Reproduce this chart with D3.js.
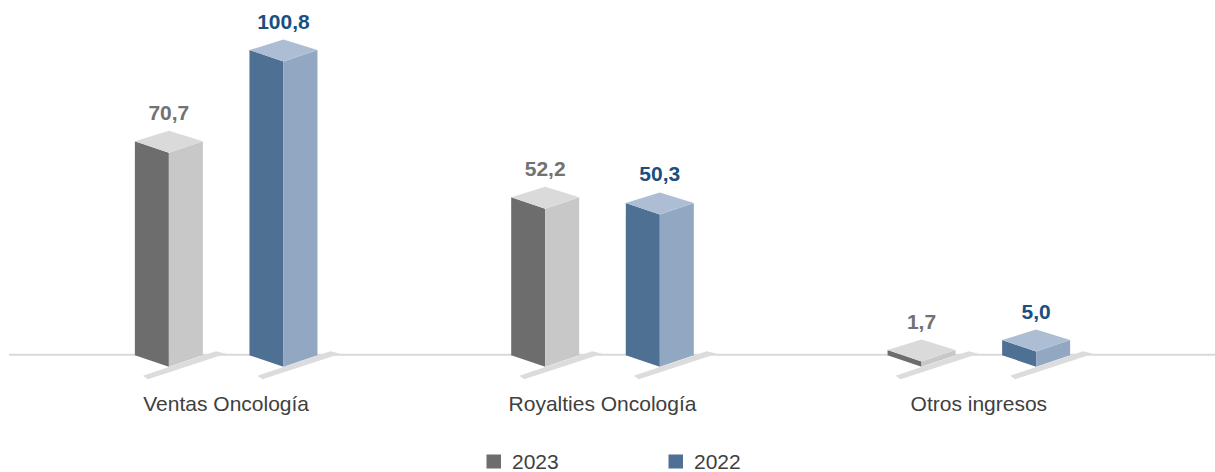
<!DOCTYPE html>
<html>
<head>
<meta charset="utf-8">
<script src="https://cdn.jsdelivr.net/npm/d3@7"></script>
<style>
  html, body { margin: 0; padding: 0; background: #ffffff; }
  svg { display: block; font-family: "Liberation Sans", Arial, sans-serif; }
</style>
</head>
<body>
<svg id="chart" width="1215" height="472"></svg>
<script>
// Revenue by line of business, 2023 vs 2022
const categories = ["Ventas Oncología", "Royalties Oncología", "Otros ingresos"];
const seriesNames = ["2023", "2022"];
const values2023 = [70.7, 52.2, 1.7];
const values2022 = [100.8, 50.3, 5.0];
const seriesValues = [values2023, values2022];

const fmt = v => d3.format(".1f")(v).replace(".", ",");

const palette = {
  "2023": { left: "#6d6d6d", right: "#c8c8c8", top: "#dadada", label: "#727272", key: "#6d6d6d" },
  "2022": { left: "#4d7093", right: "#91a7c2", top: "#adbdd3", label: "#1a4f80", key: "#4d7093" }
};

const svg = d3.select("#chart");
const W = 1215;

const baseY = 366.7;      // floor level at the front edge of each prism
const halfW = 34;         // width of each visible face
const depth = 11.5;       // vertical offset of the receding edges

const x = d3.scaleBand().domain(categories).range([38, 1167]);
const xs = d3.scaleBand().domain(seriesNames).range([-114.6, 114.6]).paddingInner(0);
const y = d3.scaleLinear().domain([0, 110]).range([baseY, baseY - 333]);

// axis line
svg.append("line")
  .attr("x1", 9).attr("x2", W)
  .attr("y1", 354.7).attr("y2", 354.7)
  .attr("stroke", "#d9d9d9").attr("stroke-width", 2);

const rows = [];
categories.forEach((c, i) => {
  seriesNames.forEach((s, j) => {
    rows.push({ cat: c, series: s, value: seriesValues[j][i] });
  });
});

const fx = d => x(d.cat) + x.bandwidth() / 2 + xs(d.series) + xs.bandwidth() / 2;

const g = svg.append("g");

// floor shadows
g.selectAll("polygon.shadow").data(rows).join("polygon")
  .attr("class", "shadow")
  .attr("fill", "#dcdcdc")
  .attr("points", d => {
    const cx = fx(d);
    return [[cx - 26, baseY + 9], [cx + 47, baseY - 15.5], [cx + 57, baseY - 13], [cx - 21, baseY + 12.5]]
      .map(p => p.join(",")).join(" ");
  });

const bars = g.selectAll("g.bar").data(rows).join("g").attr("class", "bar");

// left face
bars.append("polygon")
  .attr("fill", d => palette[d.series].left)
  .attr("points", d => {
    const cx = fx(d), t = y(d.value);
    return [[cx - halfW, t - depth], [cx, t], [cx, baseY], [cx - halfW, baseY - depth]]
      .map(p => p.join(",")).join(" ");
  });

// right face
bars.append("polygon")
  .attr("fill", d => palette[d.series].right)
  .attr("points", d => {
    const cx = fx(d), t = y(d.value);
    return [[cx, t], [cx + halfW, t - depth], [cx + halfW, baseY - depth], [cx, baseY]]
      .map(p => p.join(",")).join(" ");
  });

// top face
bars.append("polygon")
  .attr("fill", d => palette[d.series].top)
  .attr("points", d => {
    const cx = fx(d), t = y(d.value);
    return [[cx - halfW, t - depth], [cx, t - 2 * depth + 1], [cx + halfW, t - depth], [cx, t]]
      .map(p => p.join(",")).join(" ");
  });

// value labels
bars.append("text")
  .attr("x", d => fx(d))
  .attr("y", d => y(d.value) - 33)
  .attr("text-anchor", "middle")
  .attr("font-size", 21)
  .attr("font-weight", "bold")
  .attr("fill", d => palette[d.series].label)
  .text(d => fmt(d.value));

// category labels
svg.append("g").selectAll("text").data(categories).join("text")
  .attr("x", d => x(d) + x.bandwidth() / 2)
  .attr("y", 411)
  .attr("text-anchor", "middle")
  .attr("font-size", 21)
  .attr("fill", "#404040")
  .text(d => d);

// legend
const legendX = [486.5, 668.5];
const legend = svg.append("g").selectAll("g").data(seriesNames).join("g")
  .attr("transform", (d, i) => `translate(${legendX[i]},0)`);
legend.append("rect")
  .attr("x", 0).attr("y", 454.5)
  .attr("width", 14.5).attr("height", 14)
  .attr("fill", d => palette[d].key);
legend.append("text")
  .attr("x", 25.5).attr("y", 468.5)
  .attr("font-size", 21)
  .attr("fill", "#404040")
  .text(d => d);
</script>
</body>
</html>
